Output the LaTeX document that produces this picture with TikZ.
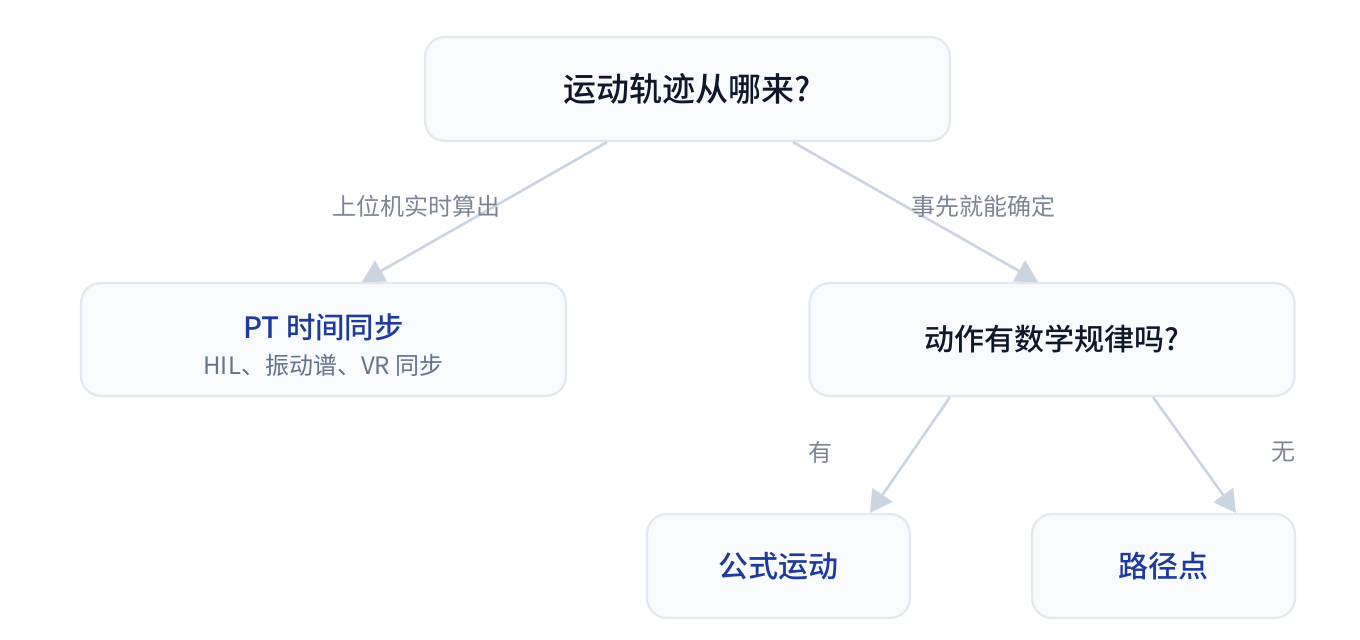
\documentclass[tikz,border=0pt]{standalone}
\usepackage{fontspec}
\setmainfont{Noto Sans CJK SC}
\newfontfamily\medfont{Noto Sans CJK SC Medium}
\usepackage{tikz}
\usetikzlibrary{positioning,arrows.meta,calc}

\definecolor{boxfill}{HTML}{F8FAFC}
\definecolor{boxline}{HTML}{E2E8F0}
\definecolor{arrline}{HTML}{CBD5E1}
\definecolor{titleink}{HTML}{0F172A}
\definecolor{leafink}{HTML}{1E3A9A}
\definecolor{subink}{HTML}{64748B}
\definecolor{lblink}{HTML}{7B8594}

\begin{document}
\begin{tikzpicture}[
  x=0.5pt, y=-0.5pt,
  box/.style={draw=boxline, fill=boxfill, rounded corners=10pt, align=center,
    line width=1.1pt, inner sep=4pt},
  qbox/.style={box, font=\fontsize{15pt}{18pt}\medfont, text=titleink},
  leaf/.style={box, font=\fontsize{15pt}{18pt}\medfont, text=leafink},
  lbl/.style={font=\fontsize{12pt}{14pt}\selectfont, text=lblink},
  arr/.style={-{Triangle[length=11pt, width=12pt]}, line width=1.3pt, arrline}
]
\useasboundingbox (0,0) rectangle (1360,640);
\node[qbox, font=\fontsize{16.5pt}{19pt}\medfont, minimum width=262.5pt, minimum height=52pt] (src) at (687.5,89) {运动轨迹从哪来?};
\node[box, font=\fontsize{14.7pt}{17pt}\medfont, minimum width=242.5pt, minimum height=56.5pt] (pt) at (323.5,339.5)
  {\rule{0pt}{18pt}\textcolor{leafink}{PT 时间同步}\\[1pt]
   {\fontsize{12pt}{14pt}\rmfamily\color{subink}HIL、振动谱、VR 同步}};
\node[qbox, minimum width=242.5pt, minimum height=56.5pt] (rule) at (1052,339.5) {动作有数学规律吗?};
\node[leaf, minimum width=131.5pt, minimum height=52pt] (formula) at (778.5,566) {公式运动};
\node[leaf, minimum width=131.5pt, minimum height=52pt] (waypt) at (1163.5,566) {路径点};
\draw[arr] ([xshift=-40.25pt]src.south) -- ([xshift=19.25pt]pt.north);
\draw[arr] ([xshift=52.75pt]src.south) -- ([xshift=-7pt]rule.north);
\draw[arr] ([xshift=-51pt]rule.south) -- ([xshift=45.75pt]formula.north);
\draw[arr] ([xshift=50.5pt]rule.south) -- ([xshift=36.25pt]waypt.north);
\node[lbl] (l1) at (416,206) {上位机实时算出};
\node[lbl] (l2) at (983,206) {事先就能确定};
\node[lbl] (l3) at (820,452) {有};
\node[lbl] (l4) at (1283,452) {无};
\end{tikzpicture}
\end{document}
